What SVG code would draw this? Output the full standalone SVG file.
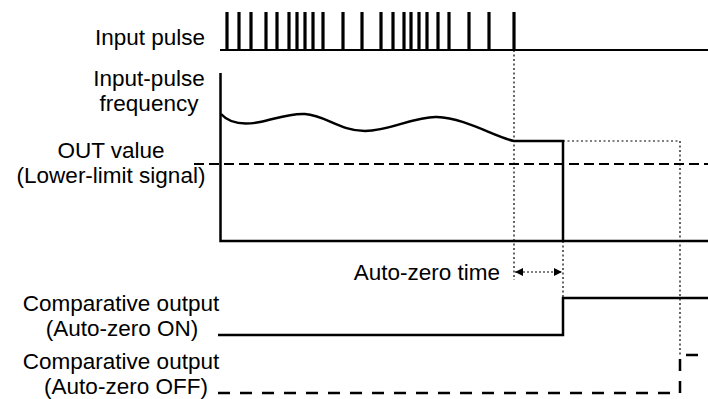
<svg xmlns="http://www.w3.org/2000/svg" width="708" height="399" viewBox="0 0 708 399">
<defs>
<style>
text{font-family:"Liberation Sans",Arial,sans-serif;font-size:22.5px;fill:#000}
.s{fill:none;stroke:#000;stroke-width:2.5;stroke-linejoin:miter}
.p{stroke:#000;stroke-width:3.2}
.d{fill:none;stroke:#000;stroke-width:1.2;stroke-dasharray:2 2.5}
.dl{fill:none;stroke:#000;stroke-width:2;stroke-dasharray:10 5}
.doff{fill:none;stroke:#000;stroke-width:2.5;stroke-dasharray:12 10}
</style>
<marker id="ah" viewBox="0 0 10 10" refX="10" refY="5" markerWidth="8" markerHeight="9" orient="auto-start-reverse" markerUnits="userSpaceOnUse">
<path d="M0,0 L10,5 L0,10 z" fill="#000"/>
</marker>
</defs>
<rect width="708" height="399" fill="#fff"/>

<g id="labels">
<text x="205" y="45" text-anchor="end">Input pulse</text>
<text x="149" y="86" text-anchor="middle">Input-pulse</text>
<text x="149" y="111" text-anchor="middle">frequency</text>
<text x="111" y="158" text-anchor="middle">OUT value</text>
<text x="111" y="183" text-anchor="middle">(Lower-limit signal)</text>
<text x="121" y="311" text-anchor="middle">Comparative output</text>
<text x="122" y="336" text-anchor="middle">(Auto-zero ON)</text>
<text x="121" y="369" text-anchor="middle">Comparative output</text>
<text x="126" y="394" text-anchor="middle">(Auto-zero OFF)</text>
<text x="500" y="280" text-anchor="end">Auto-zero time</text>
</g>

<g id="input-pulse">
<line x1="220" y1="50" x2="708" y2="50" stroke="#000" stroke-width="2"/>
<g class="p">
<line x1="227" y1="12" x2="227" y2="50"/>
<line x1="239" y1="12" x2="239" y2="50"/>
<line x1="251" y1="12" x2="251" y2="50"/>
<line x1="266" y1="12" x2="266" y2="50"/>
<line x1="277" y1="12" x2="277" y2="50"/>
<line x1="289" y1="12" x2="289" y2="50"/>
<line x1="297" y1="12" x2="297" y2="50"/>
<line x1="305" y1="12" x2="305" y2="50"/>
<line x1="313" y1="12" x2="313" y2="50"/>
<line x1="323" y1="12" x2="323" y2="50"/>
<line x1="343" y1="12" x2="343" y2="50"/>
<line x1="362" y1="12" x2="362" y2="50"/>
<line x1="381" y1="12" x2="381" y2="50"/>
<line x1="393" y1="12" x2="393" y2="50"/>
<line x1="404" y1="12" x2="404" y2="50"/>
<line x1="411" y1="12" x2="411" y2="50"/>
<line x1="419" y1="12" x2="419" y2="50"/>
<line x1="427" y1="12" x2="427" y2="50"/>
<line x1="438" y1="12" x2="438" y2="50"/>
<line x1="449" y1="12" x2="449" y2="50"/>
<line x1="469" y1="12" x2="469" y2="50"/>
<line x1="489" y1="12" x2="489" y2="50"/>
<line x1="514" y1="12" x2="514" y2="50"/>
</g>
</g>

<g id="frequency">
<path class="s" d="M220.5,73 V241 H708"/>
<path class="s" d="M221,114 C230,124 245,125 260,122 C275,119 290,113 305,114 C325,115 340,131 365,131 C390,131 415,116 437,117 C465,118 495,137 514,141 L563,141 L563,241"/>
</g>

<g id="lower-limit">
<line class="dl" x1="194" y1="164" x2="708" y2="164"/>
</g>

<g id="comp-on">
<path class="s" d="M218,335 H563 V298 H708"/>
</g>

<g id="comp-off">
<path class="doff" d="M218,393 H680 V355 H708"/>
</g>

<g id="connectors">
<line class="d" x1="514" y1="50" x2="514" y2="280"/>
<line class="d" x1="563" y1="241" x2="563" y2="298"/>
<path class="d" d="M563,141 H680 V357"/>
<line x1="515" y1="272" x2="562" y2="272" stroke="#000" stroke-width="1" stroke-dasharray="2 2" marker-start="url(#ah)" marker-end="url(#ah)"/>
</g>
</svg>
